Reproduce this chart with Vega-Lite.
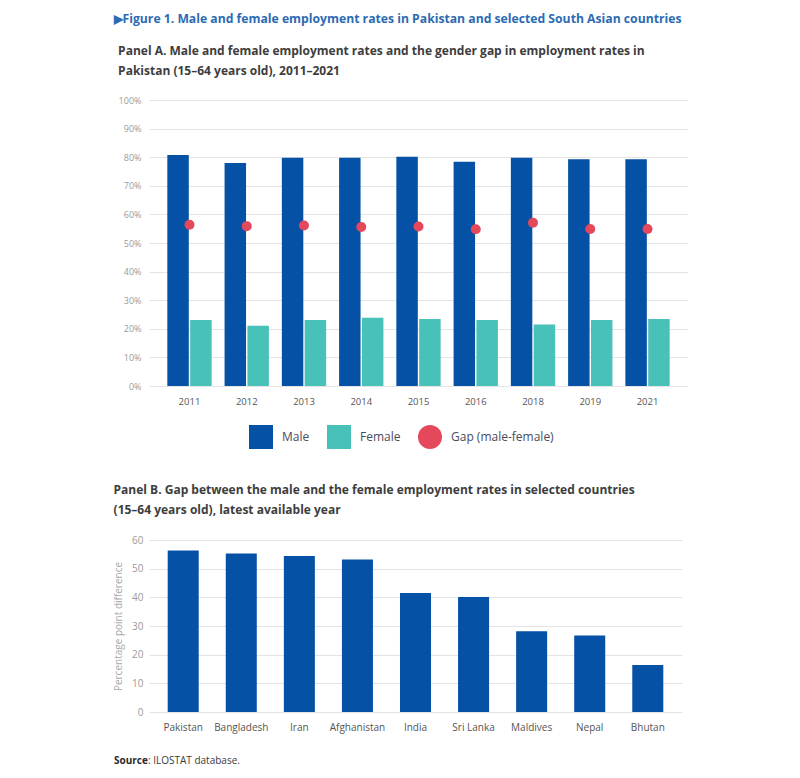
{
  "$schema": "https://vega.github.io/schema/vega-lite/v6.json",
  "background": "white",
  "padding": {"left": 113, "top": 12, "right": 5, "bottom": 5},
  "config": {
    "font": "Open Sans",
    "view": {"stroke": null},
    "title": {"anchor": "start", "frame": "bounds"}
  },
  "title": {
    "text": "▶Figure 1. Male and female employment rates in Pakistan and selected South Asian countries",
    "fontSize": 12.2,
    "fontWeight": "bold",
    "color": "#2C6BB3",
    "offset": 20,
    "anchor": "start"
  },
  "resolve": {"legend": {"color": "independent", "shape": "independent"}, "scale": {"color": "independent", "shape": "independent"}},
  "datasets": {
    "panelA": [
      {"year": "2011", "series": "Male", "value": 80.8},
      {"year": "2011", "series": "Female", "value": 23.1},
      {"year": "2011", "series": "Gap (male-female)", "value": 56.4},
      {"year": "2012", "series": "Male", "value": 78.0},
      {"year": "2012", "series": "Female", "value": 21.1},
      {"year": "2012", "series": "Gap (male-female)", "value": 55.9},
      {"year": "2013", "series": "Male", "value": 79.8},
      {"year": "2013", "series": "Female", "value": 23.1},
      {"year": "2013", "series": "Gap (male-female)", "value": 56.1},
      {"year": "2014", "series": "Male", "value": 79.8},
      {"year": "2014", "series": "Female", "value": 23.9},
      {"year": "2014", "series": "Gap (male-female)", "value": 55.6},
      {"year": "2015", "series": "Male", "value": 80.2},
      {"year": "2015", "series": "Female", "value": 23.4},
      {"year": "2015", "series": "Gap (male-female)", "value": 55.8},
      {"year": "2016", "series": "Male", "value": 78.4},
      {"year": "2016", "series": "Female", "value": 23.1},
      {"year": "2016", "series": "Gap (male-female)", "value": 54.8},
      {"year": "2018", "series": "Male", "value": 79.8},
      {"year": "2018", "series": "Female", "value": 21.5},
      {"year": "2018", "series": "Gap (male-female)", "value": 57.1},
      {"year": "2019", "series": "Male", "value": 79.3},
      {"year": "2019", "series": "Female", "value": 23.1},
      {"year": "2019", "series": "Gap (male-female)", "value": 54.9},
      {"year": "2021", "series": "Male", "value": 79.3},
      {"year": "2021", "series": "Female", "value": 23.4},
      {"year": "2021", "series": "Gap (male-female)", "value": 54.9}
    ],
    "panelB": [
      {"country": "Pakistan", "gap": 56.3},
      {"country": "Bangladesh", "gap": 55.3},
      {"country": "Iran", "gap": 54.4},
      {"country": "Afghanistan", "gap": 53.2},
      {"country": "India", "gap": 41.5},
      {"country": "Sri Lanka", "gap": 40.1},
      {"country": "Maldives", "gap": 28.2},
      {"country": "Nepal", "gap": 26.7},
      {"country": "Bhutan", "gap": 16.4}
    ],
    "source": [
      {"part": "bold", "label": "Source"},
      {"part": "rest", "label": ": ILOSTAT database."}
    ]
  },
  "columns": 1,
  "align": "none",
  "spacing": 22,
  "concat": [
    {
      "width": 539,
      "height": 286,
      "title": {
        "text": ["Panel A. Male and female employment rates and the gender gap in employment rates in", "Pakistan (15–64 years old), 2011–2021"],
        "fontSize": 12,
        "fontWeight": "bold",
        "color": "#3d3d3d",
        "lineHeight": 20,
        "offset": 18
      },
      "data": {"name": "panelA"},
      "encoding": {
        "x": {
          "field": "year",
          "type": "nominal",
          "scale": {"paddingInner": 0.226, "paddingOuter": 0.32},
          "axis": {"title": null, "labelAngle": 0, "domain": false, "ticks": false, "labelFontSize": 9.5, "labelColor": "#555555", "labelPadding": 10}
        },
        "y": {
          "field": "value",
          "type": "quantitative",
          "scale": {"domain": [0, 100]},
          "axis": {"title": null, "tickCount": 10, "labelExpr": "datum.value + '%'", "domain": false, "ticks": false, "labelFontSize": 9, "labelColor": "#9a9a9a", "labelPadding": 8, "gridColor": "#e4e4e4"}
        }
      },
      "layer": [
        {
          "transform": [{"filter": "datum.series !== 'Gap (male-female)'"}],
          "mark": {"type": "bar"},
          "encoding": {
            "xOffset": {"field": "series", "type": "nominal", "sort": ["Male", "Female"], "scale": {"paddingInner": 0.06}},
            "color": {
              "field": "series",
              "type": "nominal",
              "scale": {"domain": ["Male", "Female", "Gap (male-female)"], "range": ["#0451A5", "#48C1B8", "#E5485B"]},
              "legend": {"orient": "none", "legendX": 87, "legendY": 312, "direction": "horizontal", "title": null, "symbolSize": 576, "labelFontSize": 12, "labelColor": "#4b4b5b", "labelOffset": 9, "columnPadding": 17, "padding": 13, "symbolStrokeWidth": 0}
            }
          }
        },
        {
          "transform": [{"filter": "datum.series === 'Gap (male-female)'"}],
          "mark": {"type": "point", "filled": true, "size": 100, "opacity": 1},
          "encoding": {
            "color": {"field": "series", "type": "nominal"},
            "shape": {
              "field": "series",
              "type": "nominal",
              "scale": {"domain": ["Male", "Female", "Gap (male-female)"], "range": ["square", "square", "circle"]}
            }
          }
        }
      ]
    },
    {
      "width": 533,
      "height": 172,
      "title": {
        "text": ["Panel B. Gap between the male and the female employment rates in selected countries", "(15–64 years old), latest available year"],
        "fontSize": 12,
        "fontWeight": "bold",
        "color": "#3d3d3d",
        "lineHeight": 20,
        "offset": 18
      },
      "data": {"name": "panelB"},
      "mark": {"type": "bar", "color": "#0451A5"},
      "encoding": {
        "x": {
          "field": "country",
          "type": "nominal",
          "sort": null,
          "scale": {"paddingInner": 0.466, "paddingOuter": 0.322},
          "axis": {"title": null, "labelAngle": 0, "domain": false, "ticks": false, "labelFontSize": 10, "labelColor": "#555555", "labelPadding": 10}
        },
        "y": {
          "field": "gap",
          "type": "quantitative",
          "scale": {"domain": [0, 60]},
          "axis": {"title": "Percentage point difference", "titleFontSize": 10, "titleFontWeight": "normal", "titleColor": "#a8a8a8", "titlePadding": 8, "tickCount": 6, "domain": false, "ticks": false, "labelFontSize": 10, "labelColor": "#9a9a9a", "labelPadding": 6, "gridColor": "#e4e4e4"}
        }
      }
    },
    {
      "width": 2,
      "height": 10,
      "data": {"name": "source"},
      "layer": [
        {
          "transform": [{"filter": "datum.part === 'bold'"}],
          "mark": {"type": "text", "align": "left", "baseline": "middle", "fontWeight": "bold", "fontSize": 10, "color": "#2b2b2b", "dx": -36, "dy": 2},
          "encoding": {"text": {"field": "label"}}
        },
        {
          "transform": [{"filter": "datum.part === 'rest'"}],
          "mark": {"type": "text", "align": "left", "baseline": "middle", "fontSize": 10, "color": "#3a3a3a", "dx": -2, "dy": 2},
          "encoding": {"text": {"field": "label"}}
        }
      ]
    }
  ]
}
